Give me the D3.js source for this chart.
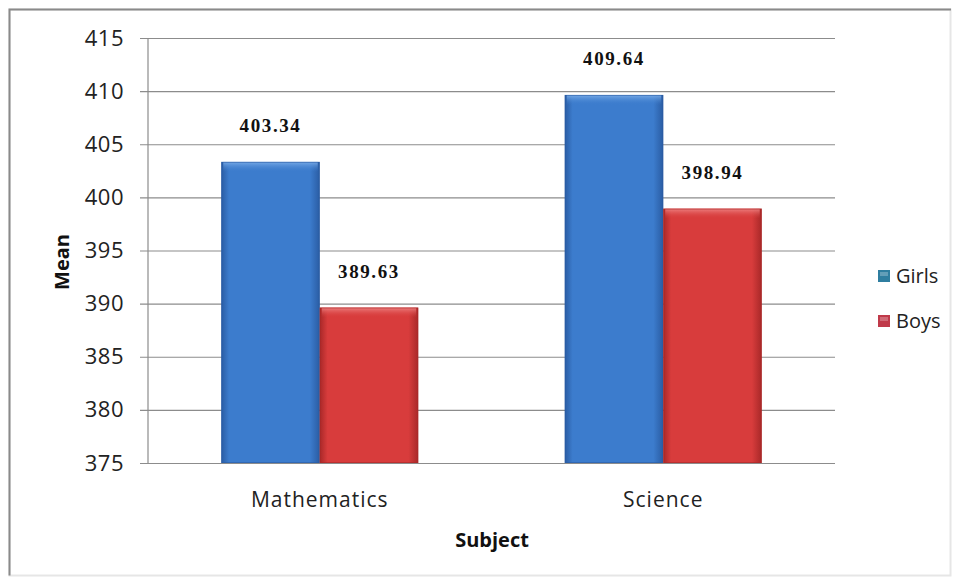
<!DOCTYPE html>
<html>
<head>
<meta charset="utf-8">
<script src="https://cdn.jsdelivr.net/npm/d3@7"></script>
<style>
  html, body { margin: 0; padding: 0; background: #ffffff; }
  svg { display: block; }
</style>
</head>
<body>
<svg id="chart" width="959" height="579"></svg>
<script>
// Mean scores by subject and gender
const subjects = ["Mathematics", "Science"];
const seriesNames = ["Girls", "Boys"];
const girls = [403.34, 409.64];
const boys = [389.63, 398.94];
const yTicks = [375, 380, 385, 390, 395, 400, 405, 410, 415];

const seriesValues = [girls, boys];
const seriesColors = [
  { edge: "#2a5ca3", mid: "#3c7ccd", top: "#7fb0ea", swatch: "#2f7ea0" },
  { edge: "#a82828", mid: "#d83c3c", top: "#f08a8a", swatch: "#c03a4a" }
];

const svg = d3.select("#chart");
const W = 959, H = 579;
const plot = { left: 148, right: 835, top: 38, bottom: 463 };

// outer frame
svg.append("rect").attr("x", 0).attr("y", 0).attr("width", W).attr("height", H).attr("fill", "#ffffff");
svg.append("rect")
  .attr("x", 9.5).attr("y", 9.5).attr("width", 941).attr("height", 566)
  .attr("fill", "none").attr("stroke", "#e6e6e6").attr("stroke-width", 2);
svg.append("path")
  .attr("d", `M9.5,575.5 V9.5 H951`)
  .attr("fill", "none").attr("stroke", "#8a8a8a").attr("stroke-width", 2);

const defs = svg.append("defs");
seriesColors.forEach((c, i) => {
  const g = defs.append("linearGradient").attr("id", "body" + i)
    .attr("x1", "0").attr("x2", "1").attr("y1", "0").attr("y2", "0");
  g.append("stop").attr("offset", "0%").attr("stop-color", c.edge);
  g.append("stop").attr("offset", "8%").attr("stop-color", c.mid);
  g.append("stop").attr("offset", "90%").attr("stop-color", c.mid);
  g.append("stop").attr("offset", "100%").attr("stop-color", c.edge);
  const t = defs.append("linearGradient").attr("id", "cap" + i)
    .attr("x1", "0").attr("x2", "0").attr("y1", "0").attr("y2", "1");
  t.append("stop").attr("offset", "0%").attr("stop-color", c.top).attr("stop-opacity", 0.9);
  t.append("stop").attr("offset", "100%").attr("stop-color", c.mid).attr("stop-opacity", 0);
});

const y = d3.scaleLinear().domain([375, 415]).range([plot.bottom, plot.top]);
const x0 = d3.scaleBand().domain(subjects).range([plot.left, plot.right])
  .paddingInner(0.4265).paddingOuter(0.2133);
const x1 = d3.scaleBand().domain(seriesNames).range([0, x0.bandwidth()]);

// gridlines with left tick marks
const yAxis = d3.axisLeft(y).tickValues(yTicks)
  .tickSize(-(plot.right - plot.left)).tickSizeOuter(0).tickFormat(d3.format("d")).tickPadding(24);
const gy = svg.append("g").attr("transform", `translate(${plot.left},0)`).call(yAxis);
gy.select(".domain").remove();
gy.selectAll(".tick line")
  .attr("x1", -8)
  .attr("stroke", "#8c8c8c").attr("stroke-width", 1.2);
gy.selectAll(".tick text")
  .attr("font-family", "'Open Sans', sans-serif").attr("font-size", 22)
  .attr("letter-spacing", 0.5).attr("fill", "#222");

// value axis line
svg.append("line").attr("x1", plot.left).attr("x2", plot.left)
  .attr("y1", plot.top).attr("y2", plot.bottom)
  .attr("stroke", "#8c8c8c").attr("stroke-width", 1.2);

// bars
subjects.forEach((s, si) => {
  seriesNames.forEach((n, ni) => {
    const v = seriesValues[ni][si];
    const bx = x0(s) + x1(n);
    const bw = x1.bandwidth();
    const by = y(v);
    const bh = y(375) - by;
    const g = svg.append("g");
    g.append("rect").attr("x", bx).attr("y", by).attr("width", bw).attr("height", bh)
      .attr("fill", `url(#body${ni})`);
    g.append("rect").attr("x", bx + 2).attr("y", by).attr("width", bw - 4).attr("height", Math.min(10, bh))
      .attr("fill", `url(#cap${ni})`);
    g.append("rect").attr("x", bx + 0.5).attr("y", by + 0.5).attr("width", bw - 1).attr("height", bh - 1)
      .attr("fill", "none").attr("stroke", seriesColors[ni].edge).attr("stroke-opacity", 0.6);
    svg.append("text")
      .attr("x", bx + bw / 2).attr("y", by - 30)
      .attr("text-anchor", "middle")
      .attr("font-family", "'Liberation Serif', serif").attr("font-weight", "bold")
      .attr("font-size", 19).attr("letter-spacing", 1.6).attr("fill", "#111")
      .text(d3.format(".2f")(v));
  });
});

// category axis labels
svg.append("g").selectAll("text").data(subjects).join("text")
  .attr("x", d => x0(d) + x0.bandwidth() / 2).attr("y", 507)
  .attr("text-anchor", "middle")
  .attr("font-family", "'Open Sans', sans-serif").attr("font-size", 21)
  .attr("letter-spacing", 1).attr("fill", "#222")
  .text(d => d);

// axis titles
svg.append("text")
  .attr("transform", "translate(69,262) rotate(-90)")
  .attr("text-anchor", "middle")
  .attr("font-family", "'Open Sans', sans-serif").attr("font-weight", "bold")
  .attr("font-size", 20).attr("fill", "#111")
  .text("Mean");
svg.append("text")
  .attr("x", 492).attr("y", 547)
  .attr("text-anchor", "middle")
  .attr("font-family", "'Open Sans', sans-serif").attr("font-weight", "bold")
  .attr("font-size", 20).attr("fill", "#111")
  .text("Subject");

// legend
const legend = svg.append("g").selectAll("g").data(seriesNames).join("g")
  .attr("transform", (d, i) => `translate(878,${276 + i * 45})`);
legend.append("rect").attr("x", 0).attr("y", -6).attr("width", 12).attr("height", 12)
  .attr("fill", (d, i) => seriesColors[i].swatch);
legend.append("rect").attr("x", 2).attr("y", -4).attr("width", 8).attr("height", 4)
  .attr("fill", "#ffffff").attr("opacity", 0.25);
legend.append("text").attr("x", 18).attr("y", 7)
  .attr("font-family", "'Open Sans', sans-serif").attr("font-size", 20)
  .attr("fill", "#222")
  .text(d => d);
</script>
</body>
</html>
